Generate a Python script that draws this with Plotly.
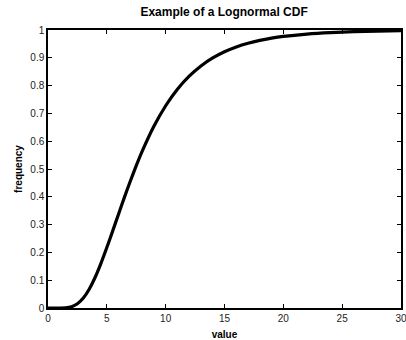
import plotly.graph_objects as go

# Lognormal CDF sampled along the value axis
value = [0, 0.5, 1, 1.5, 2, 2.5, 3, 3.5, 4, 4.5, 5, 5.5, 6, 6.5, 7, 7.5, 8,
         9, 10, 11, 12, 13, 14, 15, 16, 17, 18, 19, 20, 22, 24, 26, 28, 30]
frequency = [0.0, 0.0, 0.00003, 0.0007, 0.0045, 0.0151, 0.0357, 0.0676, 0.1098,
             0.1607, 0.2174, 0.2774, 0.3385, 0.3988, 0.4569, 0.5119, 0.5631,
             0.6534, 0.7275, 0.7869, 0.8339, 0.8707, 0.8994, 0.9216, 0.9389,
             0.9522, 0.9625, 0.9705, 0.9768, 0.9854, 0.9908, 0.9941, 0.9961,
             0.9975]

x_ticks = [0, 5, 10, 15, 20, 25, 30]
y_ticks = [0, 0.1, 0.2, 0.3, 0.4, 0.5, 0.6, 0.7, 0.8, 0.9, 1]
y_tick_text = ["0", "0.1", "0.2", "0.3", "0.4", "0.5", "0.6", "0.7", "0.8", "0.9", "1"]

font_family = "Liberation Sans, Arial, sans-serif"

fig = go.Figure()
fig.add_trace(go.Scatter(
    x=value, y=frequency, mode="lines",
    line=dict(color="black", width=3.2, shape="spline", smoothing=0.6),
    showlegend=False, hoverinfo="skip",
))

axis_common = dict(
    showgrid=False, zeroline=False, showline=True, linecolor="black",
    linewidth=1.5, mirror="ticks", ticks="inside", ticklen=4, tickwidth=1,
    tickcolor="black", automargin=False, ticklabeloverflow="allow",
    tickfont=dict(family=font_family, size=10, color="#222"),
)

fig.update_layout(
    width=406, height=340,
    margin=dict(l=48, r=5, t=30, b=32),
    paper_bgcolor="white", plot_bgcolor="white",
    font=dict(family=font_family, color="black"),
    title=dict(text="<b>Example of a Lognormal CDF</b>", x=0.552, xanchor="center",
               y=1 - 12 / 340, yanchor="middle", yref="container",
               font=dict(size=12, family=font_family, color="black")),
    xaxis=dict(range=[0, 30], tickvals=x_ticks,
               title=dict(text="<b>value</b>", standoff=8,
                          font=dict(size=10, family=font_family)),
               **axis_common),
    yaxis=dict(range=[0, 1], tickvals=y_ticks, ticktext=y_tick_text,
               title=dict(text="<b>frequency</b>", standoff=6,
                          font=dict(size=10, family=font_family)),
               **axis_common),
)

fig.write_html("out.html")
